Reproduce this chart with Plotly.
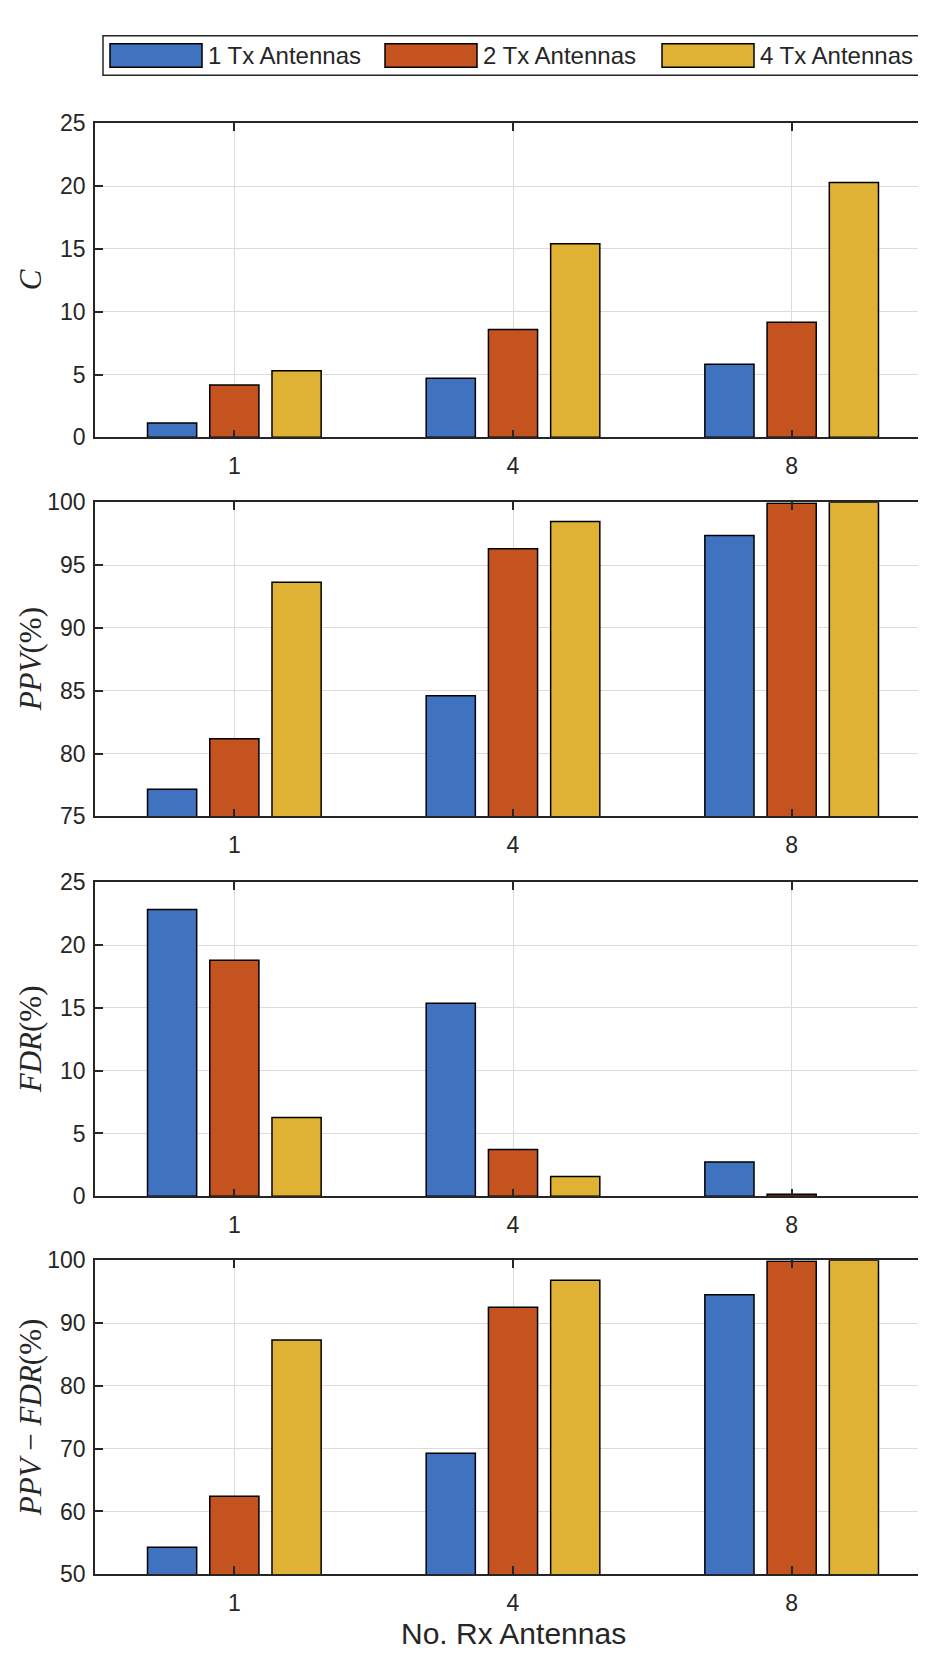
import plotly.graph_objects as go

# Data
rx_labels = ['1', '4', '8']
tx_names = ['1 Tx Antennas', '2 Tx Antennas', '4 Tx Antennas']
tx_colors = ['#3F72BF', '#C4531F', '#DFB134']

c_tx1 = [1.15, 4.70, 5.83]
c_tx2 = [4.17, 8.59, 9.17]
c_tx4 = [5.31, 15.42, 20.29]

ppv_tx1 = [77.16, 84.60, 97.35]
ppv_tx2 = [81.17, 96.30, 99.92]
ppv_tx4 = [93.63, 98.47, 100.0]

fdr_tx1 = [22.83, 15.37, 2.72]
fdr_tx2 = [18.80, 3.72, 0.16]
fdr_tx4 = [6.28, 1.57, 0.0]

diff_tx1 = [54.28, 69.28, 94.50]
diff_tx2 = [62.40, 92.50, 99.85]
diff_tx4 = [87.30, 96.80, 100.0]

panels = [
    ('<i>C</i>', [c_tx1, c_tx2, c_tx4], [0, 25], 5),
    ('<i>PPV</i>(%)', [ppv_tx1, ppv_tx2, ppv_tx4], [75, 100], 5),
    ('<i>FDR</i>(%)', [fdr_tx1, fdr_tx2, fdr_tx4], [0, 25], 5),
    ('<i>PPV</i> \u2212 <i>FDR</i>(%)', [diff_tx1, diff_tx2, diff_tx4], [50, 100], 10),
]

W, H = 926, 1657
x0_px, x1_px = 87, 923
tops = [104, 489, 875, 1259]
plot_h = 319

tick_font = dict(family='Liberation Sans, Arial', size=23, color='#262626')
fig = go.Figure()
annotations = []
shapes = []

for i, (ylab, series, yrange, dtick) in enumerate(panels):
    n = i + 1
    xa = 'x' if n == 1 else 'x%d' % n
    ya = 'y' if n == 1 else 'y%d' % n
    for name, vals, col in zip(tx_names, series, tx_colors):
        # matlab draws nothing for an empty bar, so no outline there
        widths = [0 if v == 0 else 1.5 for v in vals]
        fig.add_trace(go.Bar(
            x=rx_labels, y=vals, name=name, xaxis=xa, yaxis=ya,
            marker=dict(color=col, line=dict(color='black', width=widths)),
            showlegend=False,
        ))
    top = tops[i]
    bot = top + plot_h
    dom_y = [1 - bot / H, 1 - top / H]
    fig.layout['xaxis' if n == 1 else 'xaxis%d' % n] = dict(
        domain=[x0_px / W, x1_px / W], anchor=ya, type='category',
        range=[-0.5, 2.5], showgrid=True, gridcolor='#DCDCDC', gridwidth=1,
        showline=True, linecolor='#262626', linewidth=1.5, mirror='ticks',
        ticks='inside', ticklen=8, tickcolor='#262626', tickwidth=1.5,
        tickfont=tick_font, ticklabelstandoff=7, fixedrange=True,
    )
    fig.layout['yaxis' if n == 1 else 'yaxis%d' % n] = dict(
        domain=dom_y, anchor=xa, range=yrange, dtick=dtick, tick0=yrange[0],
        showgrid=True, gridcolor='#DCDCDC', gridwidth=1, zeroline=False,
        showline=True, linecolor='#262626', linewidth=1.5, mirror='ticks',
        ticks='inside', ticklen=8, tickcolor='#262626', tickwidth=1.5,
        tickfont=tick_font, ticklabelstandoff=3, fixedrange=True,
    )
    annotations.append(dict(
        text=ylab, xref='paper', yref='paper', x=22 / W,
        y=1 - (top + plot_h / 2) / H, textangle=-90, showarrow=False,
        font=dict(family='Liberation Serif, Times New Roman', size=31, color='#262626'),
        xanchor='center', yanchor='middle',
    ))

# x axis title under the last panel
annotations.append(dict(
    text='No. Rx Antennas', xref='paper', yref='paper',
    x=(x0_px + x1_px) / 2 / W, y=1 - 1638 / H, showarrow=False,
    font=dict(family='Liberation Sans, Arial', size=30, color='#262626'),
    xanchor='center', yanchor='middle',
))

# legend box drawn as in the original (wide swatches)
shapes.append(dict(type='rect', xref='paper', yref='paper',
                   x0=95 / W, x1=917 / W, y0=1 - 55 / H, y1=1 - 15 / H,
                   line=dict(color='#262626', width=1.5), fillcolor='white'))
sw_left = [102, 377, 654]
for name, col, sx in zip(tx_names, tx_colors, sw_left):
    shapes.append(dict(type='rect', xref='paper', yref='paper',
                       x0=sx / W, x1=(sx + 92) / W, y0=1 - 47 / H, y1=1 - 23 / H,
                       line=dict(color='black', width=1.5), fillcolor=col))
    annotations.append(dict(
        text=name, xref='paper', yref='paper', x=(sx + 96) / W, y=1 - 35 / H,
        showarrow=False, xanchor='left', yanchor='middle',
        font=dict(family='Liberation Sans, Arial', size=24, color='#262626'),
    ))

fig.update_layout(
    width=W, height=H, margin=dict(l=0, r=0, t=0, b=0),
    paper_bgcolor='white', plot_bgcolor='white',
    barmode='group', bargap=0.33, bargroupgap=0.21,
    annotations=annotations, shapes=shapes, showlegend=False,
)

fig.write_html('out.html')
